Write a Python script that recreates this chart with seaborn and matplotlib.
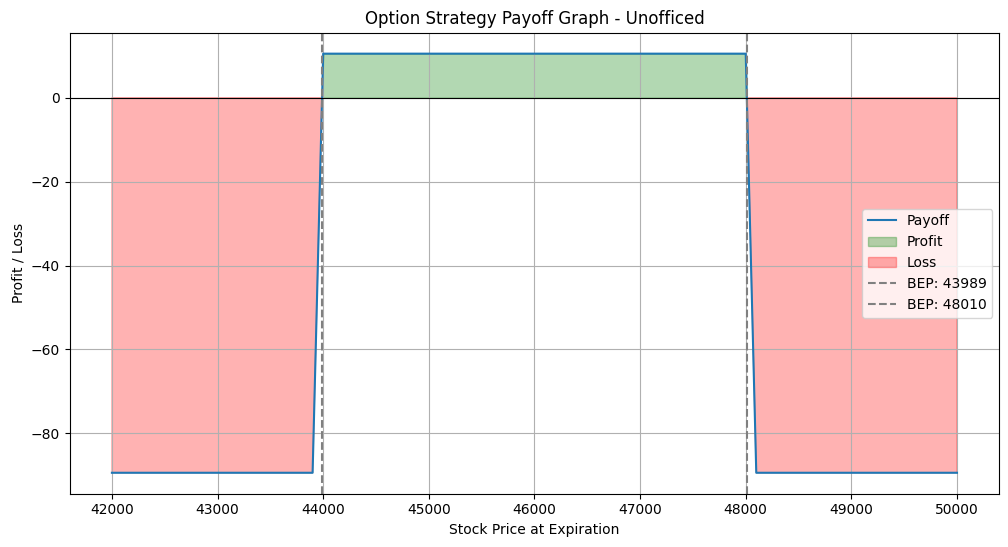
import numpy as np
import pandas as pd
import matplotlib
matplotlib.use("Agg")
import matplotlib.pyplot as plt
import seaborn as sb

# Payoff at expiration (breakpoints, 100-pt grid)
prices = [42000, 43900, 44000, 48000, 48100, 50000]
payoff = [-89.4, -89.4, 10.5, 10.5, -89.4, -89.4]
bep_points = [43989, 48010]

df = pd.DataFrame({"Price": prices, "Payoff": payoff})
x = np.array(prices, dtype=float)
y = np.array(payoff, dtype=float)

fig = plt.figure(figsize=(10.08, 5.47), dpi=100)
ax = fig.add_axes([0.0691, 0.0974, 0.9222, 0.8428])

sb.lineplot(data=df, x="Price", y="Payoff", ax=ax, label="Payoff", color="#1f77b4")
ax.fill_between(x, y, 0, where=(y >= 0), interpolate=True, color="green", alpha=0.3, label="Profit")
ax.fill_between(x, y, 0, where=(y < 0), interpolate=True, color="red", alpha=0.3, label="Loss")
ax.axhline(0, color="black", linewidth=0.8)
for b in bep_points:
    ax.axvline(b, color="gray", linestyle="--", label=f"BEP: {b}")

ax.set_title("Option Strategy Payoff Graph - Unofficed")
ax.set_xlabel("Stock Price at Expiration")
ax.set_ylabel("Profit / Loss")
ax.grid(True)
ax.legend(loc="center right")

fig.savefig("out.png", dpi=100)
